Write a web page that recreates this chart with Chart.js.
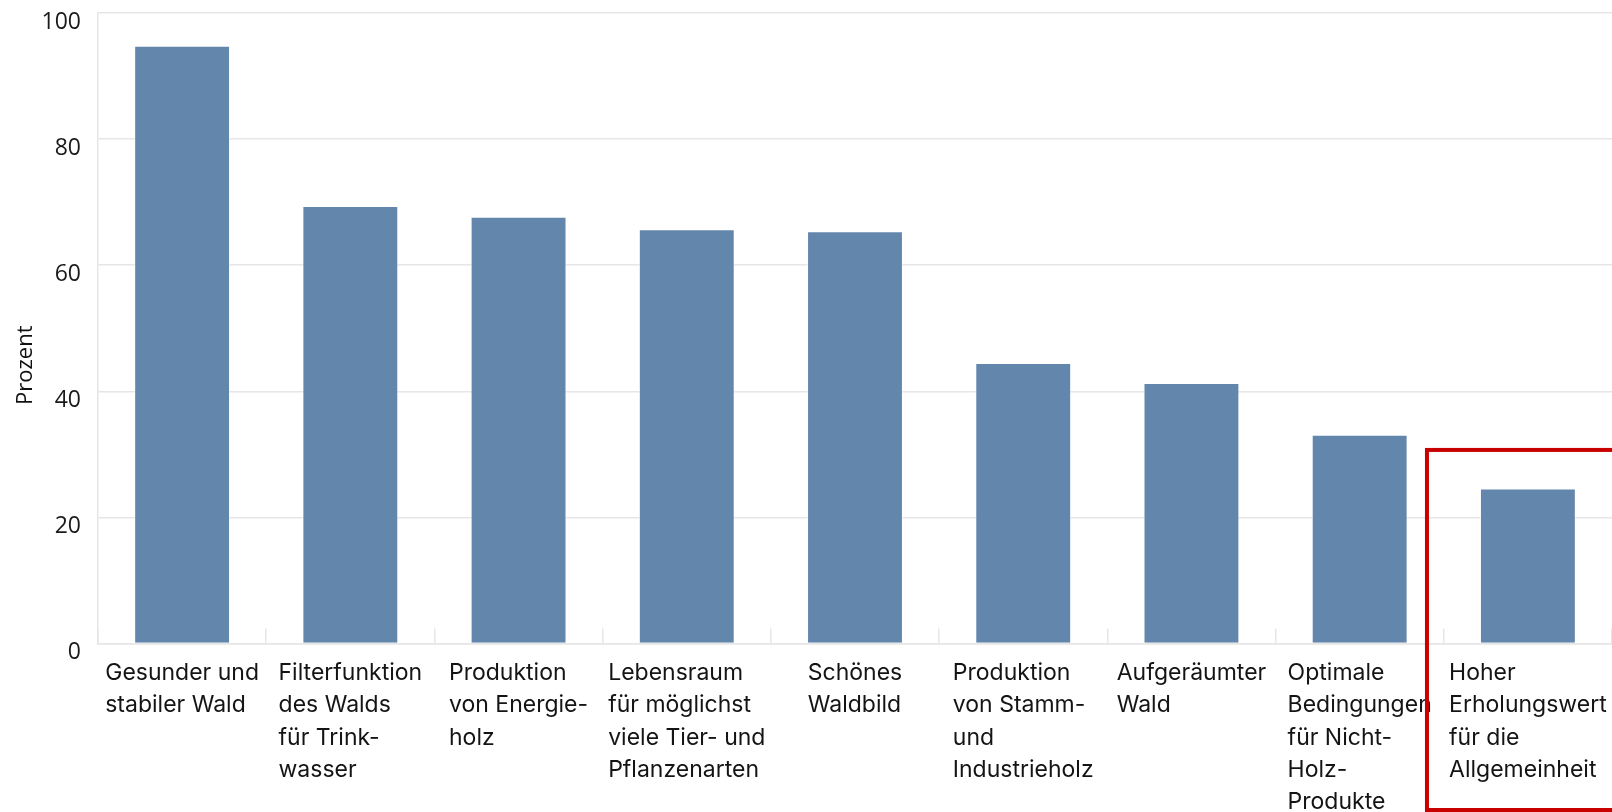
<!DOCTYPE html>
<html lang="de">
<head>
<meta charset="utf-8">
<title>Waldfunktionen</title>
<script src="https://cdn.jsdelivr.net/npm/chart.js@4.4.1/dist/chart.umd.min.js"></script>
<style>
  html, body { margin: 0; padding: 0; background: #fff; }
  #wrap { width: 1612px; height: 812px; }
</style>
</head>
<body>
<div id="wrap"><canvas id="chart" width="1612" height="812"></canvas></div>
<script>
// Kategorien (mehrzeilig) und Anteile in Prozent
var categories = [
  ["Gesunder und", "stabiler Wald"],
  ["Filterfunktion", "des Walds", "für Trink-", "wasser"],
  ["Produktion", "von Energie-", "holz"],
  ["Lebensraum", "für möglichst", "viele Tier- und", "Pflanzenarten"],
  ["Schönes", "Waldbild"],
  ["Produktion", "von Stamm-", "und", "Industrieholz"],
  ["Aufgeräumter", "Wald"],
  ["Optimale", "Bedingungen", "für Nicht-", "Holz-", "Produkte"],
  ["Hoher", "Erholungswert", "für die", "Allgemeinheit"]
];
var values = [94.8, 69.4, 67.7, 65.7, 65.4, 44.5, 41.3, 33.1, 24.6];
var yTicks = [0, 20, 40, 60, 80, 100];
var yTitle = "Prozent";
var highlightIndex = 8;     // hervorgehobene Kategorie
var highlightTop = 30.7;    // Oberkante des roten Rahmens (Skalenwert)

var gridColor = "#e6e6e6";
var labelFont = "23px Inter, 'Noto Sans', sans-serif";

// x-Beschriftung: Zeilen linksbündig, Block unter dem Balken zentriert
var xLabelsPlugin = {
  id: "xLabels",
  afterDraw: function(chart) {
    var ctx = chart.ctx, xs = chart.scales.x, area = chart.chartArea;
    ctx.save();
    ctx.font = labelFont;
    ctx.fillStyle = "#141414";
    ctx.textAlign = "left";
    ctx.textBaseline = "alphabetic";
    categories.forEach(function(lines, i) {
      var w = 0;
      lines.forEach(function(l) { w = Math.max(w, ctx.measureText(l).width); });
      var x0 = xs.getPixelForTick(i) - w / 2;
      lines.forEach(function(l, j) {
        ctx.fillText(l, x0, area.bottom + 36.5 + j * 32.3);
      });
    });
    ctx.restore();
  }
};

// Achsentitel links
var yTitlePlugin = {
  id: "yTitle",
  afterDraw: function(chart) {
    var ctx = chart.ctx, area = chart.chartArea;
    ctx.save();
    ctx.font = "22px 'Open Sans', sans-serif";
    ctx.fillStyle = "#111";
    ctx.textAlign = "center";
    ctx.textBaseline = "middle";
    ctx.translate(area.left - 72, (area.top + area.bottom) / 2 + 37);
    ctx.rotate(-Math.PI / 2);
    ctx.fillText(yTitle, 0, 0);
    ctx.restore();
  }
};

// roter Rahmen um die letzte Kategorie
var highlightPlugin = {
  id: "highlight",
  afterDraw: function(chart) {
    var ctx = chart.ctx, xs = chart.scales.x, ys = chart.scales.y;
    var step = xs.getPixelForTick(1) - xs.getPixelForTick(0);
    var left = xs.getPixelForTick(highlightIndex) - step * 0.6;
    var top = ys.getPixelForValue(highlightTop);
    ctx.save();
    ctx.strokeStyle = "#c80000";
    ctx.lineWidth = 4;
    ctx.strokeRect(left, top, chart.width, chart.height - 2 - top);
    ctx.restore();
  }
};

new Chart(document.getElementById("chart"), {
  type: "bar",
  data: {
    labels: categories,
    datasets: [{
      data: values,
      backgroundColor: "#6386ad",
      borderColor: "rgba(255,255,255,0.55)",
      borderWidth: 1,
      categoryPercentage: 1,
      barPercentage: 0.57
    }]
  },
  options: {
    responsive: false,
    animation: false,
    layout: { padding: 0 },
    plugins: {
      legend: { display: false },
      tooltip: { enabled: false }
    },
    scales: {
      x: {
        offset: true,
        grid: {
          offset: true,
          drawOnChartArea: false,
          drawTicks: true,
          tickLength: -15,
          color: gridColor,
          lineWidth: 1.5
        },
        border: { color: gridColor, width: 1.5 },
        ticks: { display: false },
        afterFit: function(scale) { scale.height = 168.5; }
      },
      y: {
        min: 0,
        max: 100,
        afterBuildTicks: function(scale) {
          scale.ticks = yTicks.map(function(v) { return { value: v }; });
        },
        grid: { color: gridColor, lineWidth: 1.5, drawTicks: false },
        border: { color: gridColor, width: 1.5 },
        ticks: {
          color: "#1a1a1a",
          font: { family: "'Open Sans', sans-serif", size: 23 },
          padding: 17,
          labelOffset: 9
        },
        afterFit: function(scale) {
          scale.width = 98;
          scale.paddingTop = 13;
          scale.paddingBottom = 0;
        }
      }
    }
  },
  plugins: [xLabelsPlugin, yTitlePlugin, highlightPlugin]
});
</script>
</body>
</html>
